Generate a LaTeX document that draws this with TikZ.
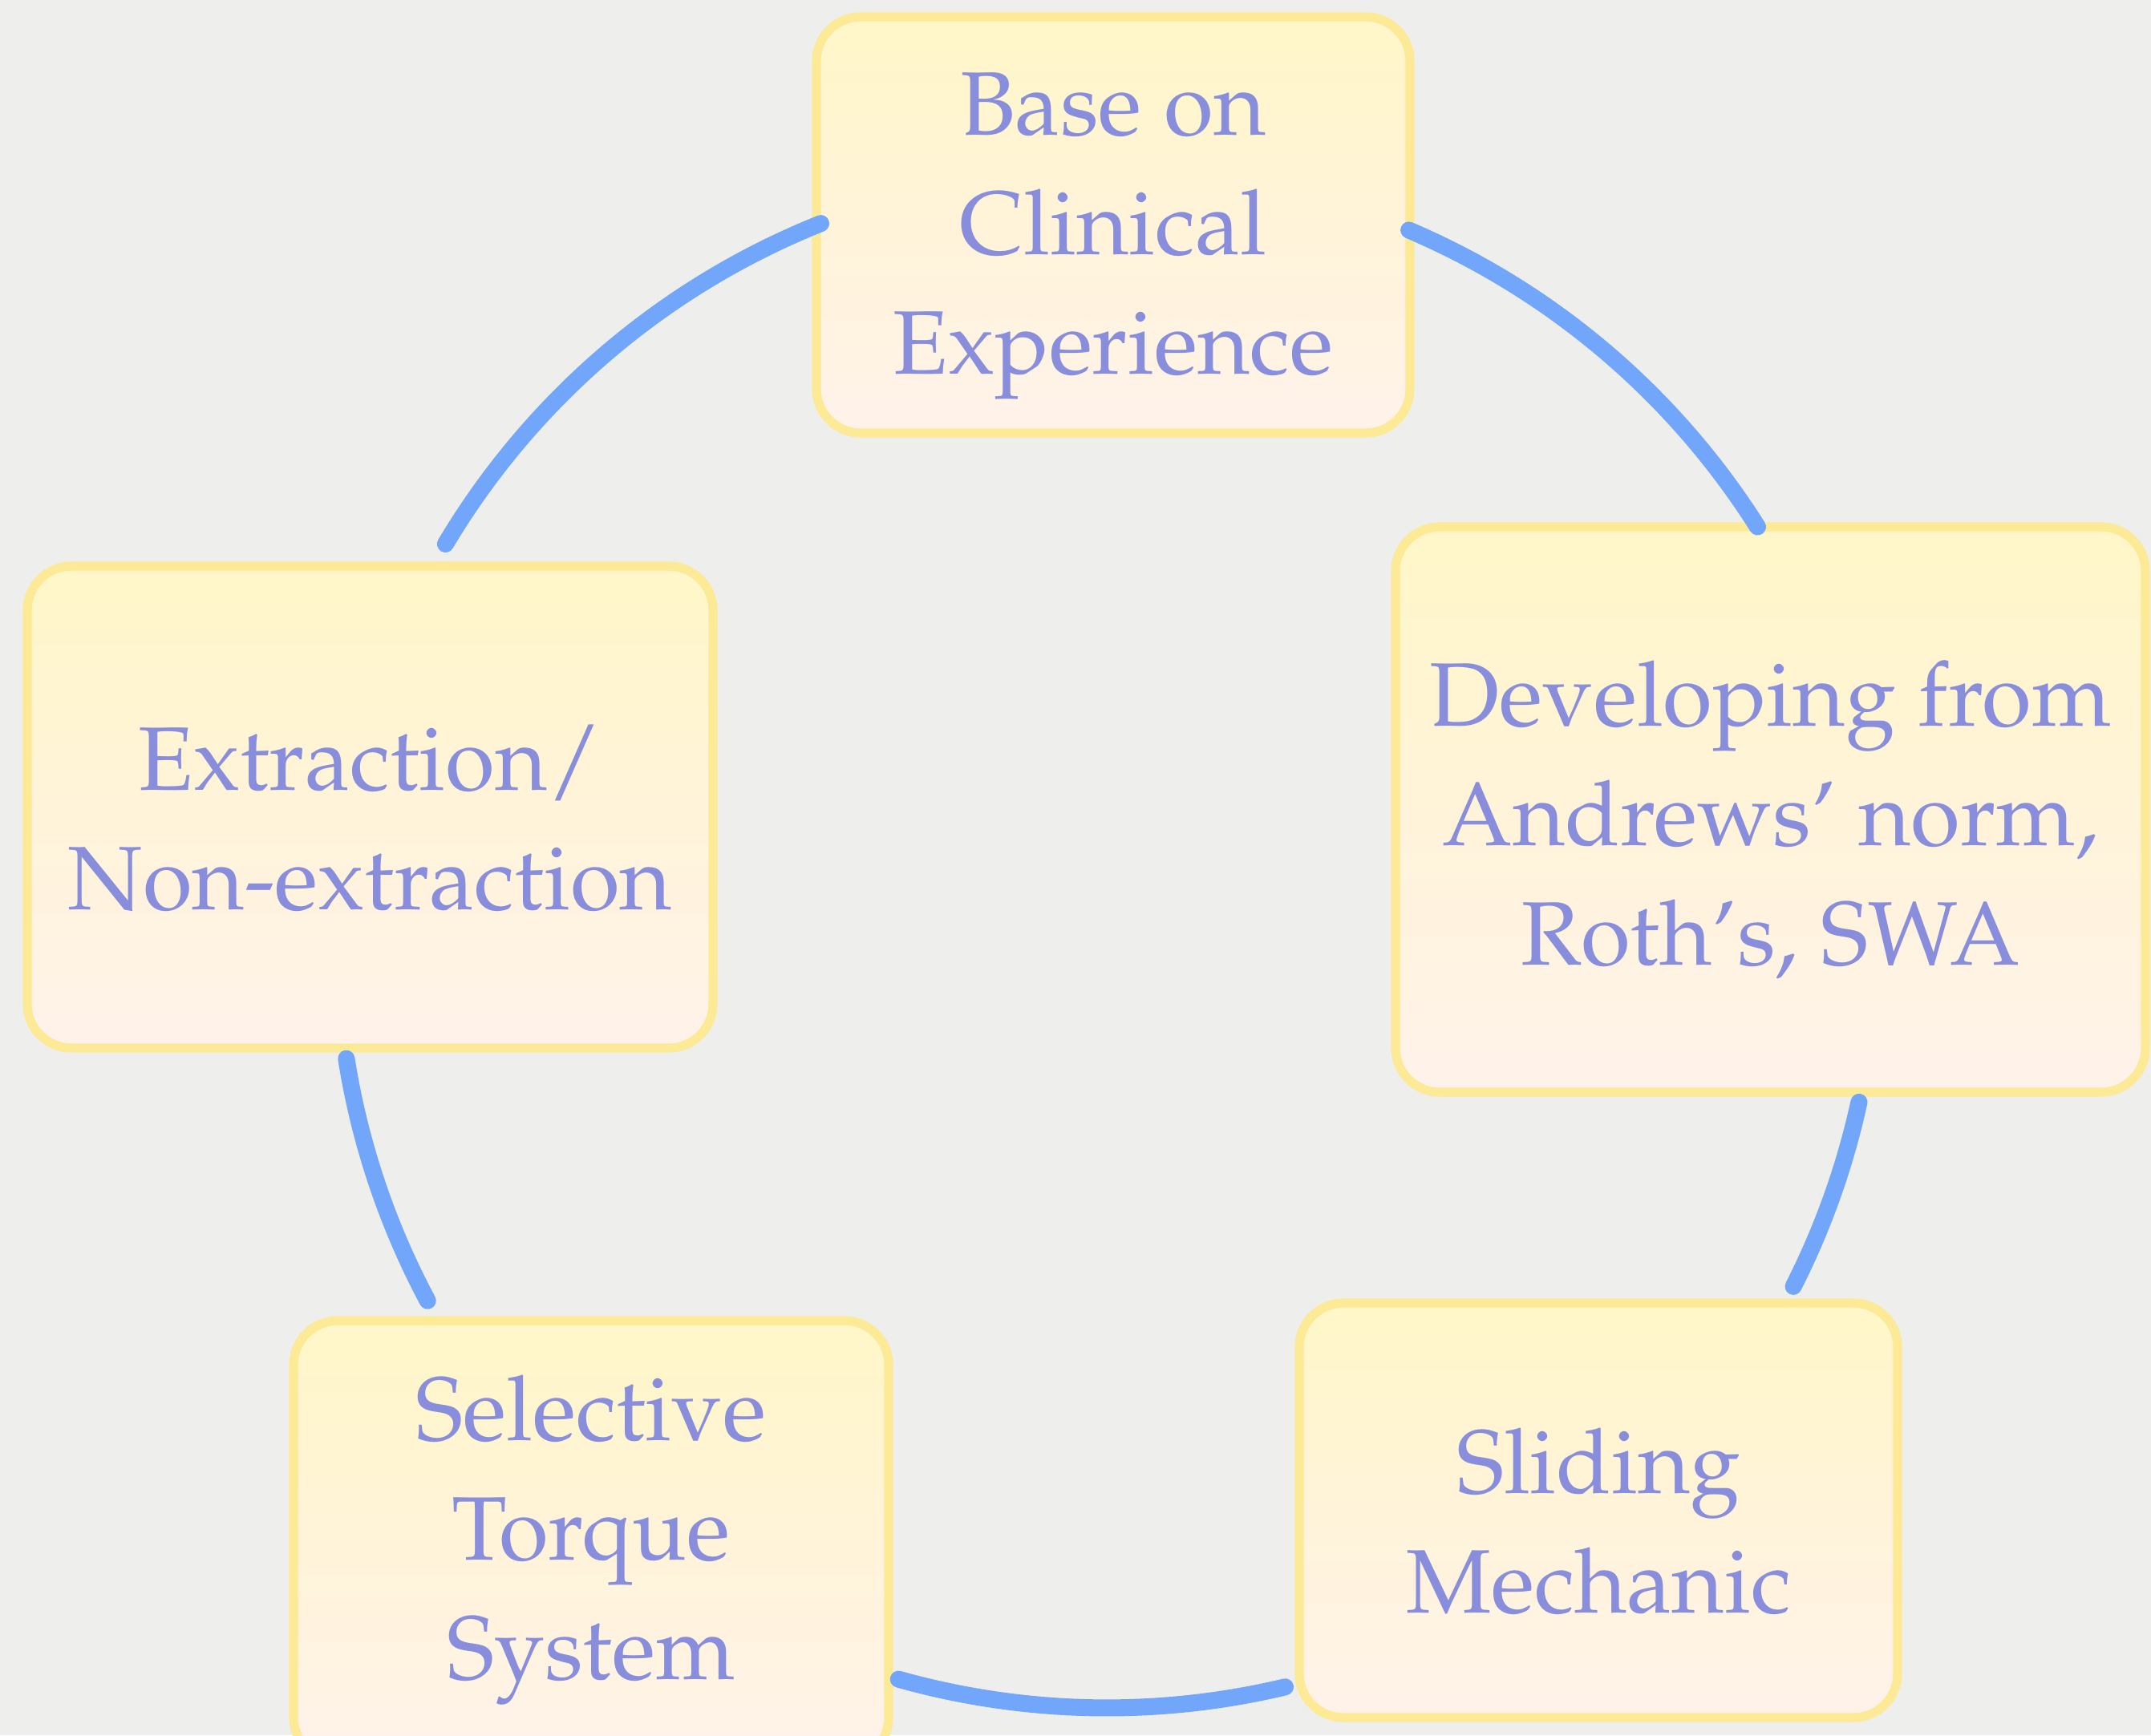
\documentclass[tikz,border=0pt]{standalone}
\usepackage[T1]{fontenc}
\usepackage{mathpazo}
\usetikzlibrary{calc, positioning}

\definecolor{paper}{RGB}{238,238,236}
\definecolor{boxline}{RGB}{253,234,150}
\definecolor{boxtop}{RGB}{255,246,200}
\definecolor{boxbot}{RGB}{255,242,234}
\definecolor{ink}{RGB}{137,142,220}
\definecolor{chalk}{RGB}{114,166,250}

\tikzset{
  card/.style={draw=boxline, line width=3.2pt, rounded corners=0.55cm,
    top color=boxtop, bottom color=boxbot, inner sep=0pt},
  cardtext/.style={align=center, text=ink, yshift=-0.14cm,
    font=\fontsize{32}{42.4}\selectfont},
  link/.style={chalk, line width=6pt, line cap=round},
}

\begin{document}
\begin{tikzpicture}
\def\rad{9.6}
\useasboundingbox (0,0) rectangle (26.82,21.64);
\fill[paper] (0,0) rectangle (26.82,21.64);
\coordinate (O) at (13.80,9.94);
% the five stages
\node[card, minimum width=7.40cm, minimum height=5.19cm,
  label={[cardtext]center:{Base on\\Clinical\\Experience}}] (base) at (13.88,18.835) {};
\node[card, minimum width=9.35cm, minimum height=7.05cm,
  label={[cardtext]center:{Developing from\\Andrews' norm,\\Roth's, SWA}}] (devel) at (22.075,11.545) {};
\node[card, minimum width=7.46cm, minimum height=5.17cm,
  label={[cardtext]center:{Sliding\\Mechanic}}] (slide) at (19.93,2.805) {};
\node[card, minimum width=7.42cm, minimum height=5.50cm,
  label={[cardtext, yshift=0.15cm]center:{Selective\\Torque\\System}}] (torque) at (7.37,2.42) {};
\node[card, minimum width=8.55cm, minimum height=6.01cm,
  label={[cardtext]center:{Extraction/\\Non-extraction}}] (extract) at (4.615,11.575) {};
% ends of the ring pieces
\coordinate (b1) at ($(O)+(111.8:\rad)$);
\coordinate (b2) at ($(O)+(66.9:\rad)$);
\coordinate (d1) at ($(O)+(-12.3:\rad)$);
\coordinate (s1) at ($(O)+(-76.6:\rad)$);
\coordinate (e1) at ($(O)+(189.0:\rad)$);
\draw[link] (b1) arc[start angle=111.8, end angle=149.2, radius=\rad];
\draw[link] (b2) arc[start angle=66.9, end angle=32.3, radius=\rad];
\draw[link] (d1) arc[start angle=-12.3, end angle=-26.9, radius=\rad];
\draw[link] (s1) arc[start angle=-76.6, end angle=-105.7, radius=\rad];
\draw[link] (e1) arc[start angle=189.0, end angle=208.1, radius=\rad];
\end{tikzpicture}
\end{document}
